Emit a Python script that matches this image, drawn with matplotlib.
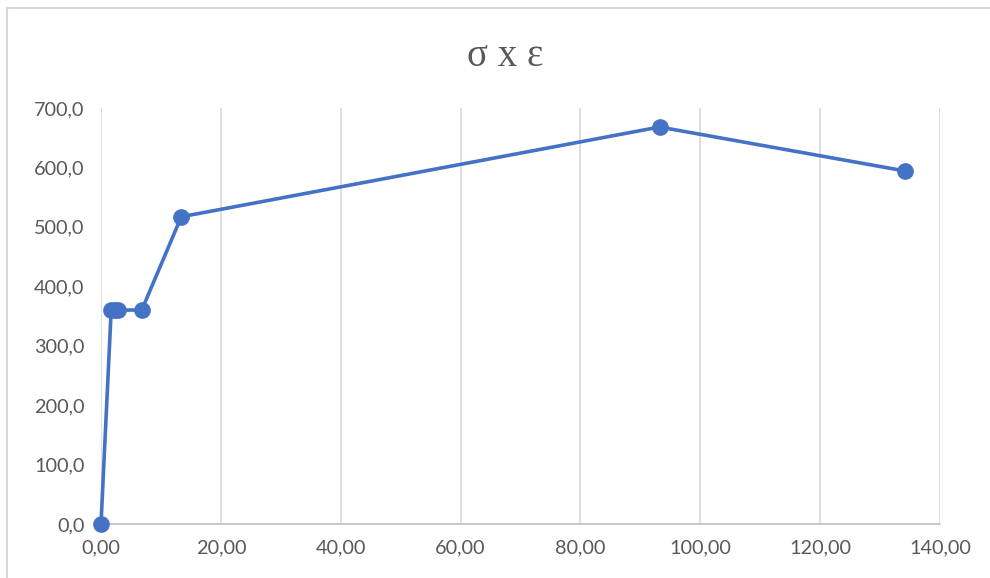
import matplotlib.pyplot as plt
from matplotlib.patches import Rectangle
from matplotlib.ticker import FuncFormatter

# strain (x) and stress (y)
strain = [0.0, 1.7, 2.3, 2.8, 6.8, 13.4, 93.2, 134.2]
stress = [0.0, 360.0, 360.0, 360.0, 360.0, 517.0, 668.0, 594.0]

xticks = [0, 20, 40, 60, 80, 100, 120, 140]
yticks = [0, 100, 200, 300, 400, 500, 600, 700]

grey = '#595959'
blue = '#4472C4'

fig = plt.figure(figsize=(9.9, 5.78), dpi=100)
ax = fig.add_axes([101/990, 54/578, 839/990, 416/578])

# chart area border (cropped on the right and bottom)
fig.patches.append(Rectangle((6.5/990, -0.1), 1.2, 1.1 - 8.5/578,
                             transform=fig.transFigure, fill=False,
                             edgecolor='#d9d9d9', linewidth=1.5))

ax.plot(strain, stress, color=blue, linewidth=2.6, marker='o',
        markersize=11, zorder=3, clip_on=False)

ax.set_xlim(0, 140)
ax.set_ylim(0, 700)
ax.set_xticks(xticks)
ax.set_yticks(yticks)
ax.xaxis.set_major_formatter(FuncFormatter(lambda v, p: f'{v:.2f}'.replace('.', ',')))
ax.yaxis.set_major_formatter(FuncFormatter(lambda v, p: f'{v:.1f}'.replace('.', ',')))

ax.grid(axis='x', color='#d9d9d9', linewidth=1.2)
ax.set_axisbelow(True)
for s in ('top', 'right', 'left'):
    ax.spines[s].set_visible(False)
ax.spines['bottom'].set_color('#bfbfbf')
ax.spines['bottom'].set_linewidth(1.2)
ax.tick_params(axis='x', length=0, labelsize=14.3, labelcolor=grey, pad=11)
ax.tick_params(axis='y', length=0, labelsize=14.3, labelcolor=grey, pad=12)
for lab in ax.get_xticklabels() + ax.get_yticklabels():
    lab.set_family('Lato')

fig.text(0.5 + 10/990, 1 - 56/578, 'σ x ε', ha='center', va='center',
         fontsize=28, color=grey, family='Liberation Serif')

fig.savefig('out.png', dpi=100)
